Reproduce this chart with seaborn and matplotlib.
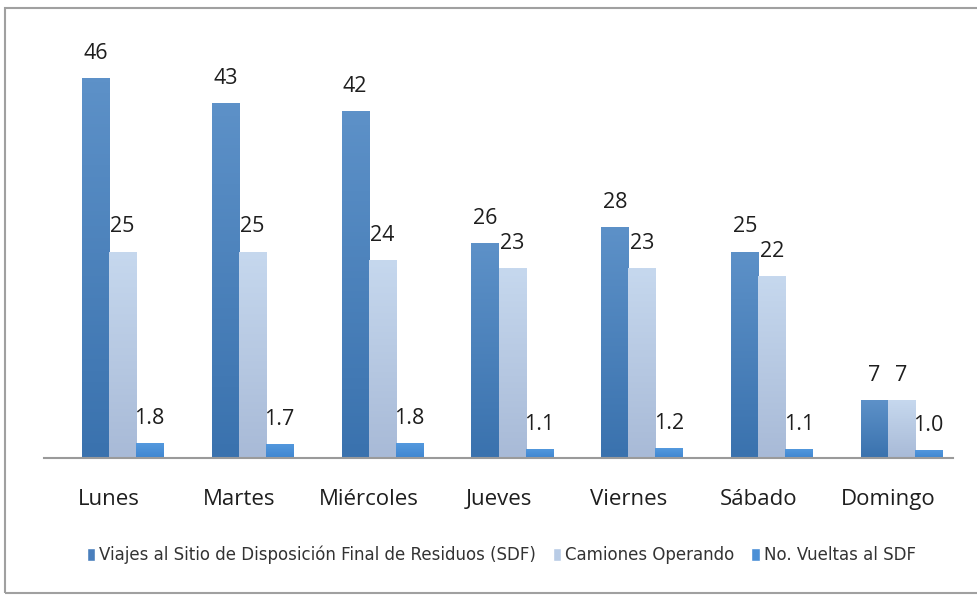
import pandas as pd
import numpy as np
import seaborn as sns
import matplotlib.pyplot as plt
from matplotlib.patches import Rectangle
from matplotlib.colors import LinearSegmentedColormap
from matplotlib.transforms import ScaledTranslation

# Datos
dias = ["Lunes", "Martes", "Miércoles", "Jueves", "Viernes", "Sábado", "Domingo"]
series = ["Viajes al Sitio de Disposición Final de Residuos (SDF)",
          "Camiones Operando", "No. Vueltas al SDF"]
viajes = [46, 43, 42, 26, 28, 25, 7]
camiones = [25, 25, 24, 23, 23, 22, 7]
vueltas = [1.8, 1.7, 1.8, 1.1, 1.2, 1.1, 1.0]
etiquetas = [["46", "43", "42", "26", "28", "25", "7"],
             ["25", "25", "24", "23", "23", "22", "7"],
             ["1.8", "1.7", "1.8", "1.1", "1.2", "1.1", "1.0"]]

df = pd.DataFrame({
    "dia": dias * 3,
    "serie": [series[0]] * 7 + [series[1]] * 7 + [series[2]] * 7,
    "valor": viajes + camiones + vueltas,
})

colores = ["#4a7fbd", "#b9cce6", "#4a8fd6"]
# (abajo, arriba)
degradados = [("#3a72ae", "#5d91c8"), ("#a8bad7", "#c6d8ee"), ("#3f86d0", "#5499de")]

sns.set_style("white")
plt.rcParams["font.family"] = ["Open Sans", "DejaVu Sans"]

fig = plt.figure(figsize=(9.77, 5.95), dpi=100)
ax = fig.add_axes([44 / 977, 137 / 595, 909 / 977, 413 / 595])

sns.barplot(data=df, x="dia", y="valor", hue="serie", hue_order=series,
            palette=colores, width=0.624, ax=ax, legend=True, saturation=1)

# Degradado en cada barra y etiquetas de valor
for i, cont in enumerate(ax.containers):
    cmap = LinearSegmentedColormap.from_list("g%d" % i, degradados[i])
    for bar, txt in zip(cont, etiquetas[i]):
        x0, w, h = bar.get_x(), bar.get_width(), bar.get_height()
        grad = np.linspace(0, 1, 100).reshape(-1, 1)
        im = ax.imshow(grad, cmap=cmap, aspect="auto", extent=[x0, x0 + w, 0, h],
                       origin="lower", zorder=bar.get_zorder() + 0.1)
        im.set_clip_path(bar)
        ax.text(x0 + w / 2, h + 1.7, txt, ha="center", va="bottom",
                fontsize=15.5, color="#1e1e1e")

# Excel deja las barras desplazadas respecto a la categoría
ax.set_xlim(-0.604, 6.396)
ax.set_ylim(0, 50)
ax.set_xlabel("")
ax.set_ylabel("")
ax.set_yticks([])
ax.tick_params(axis="x", length=0, labelsize=16, pad=22, colors="#1e1e1e")
desplaza = ScaledTranslation(-13.5 / 100, 0, fig.dpi_scale_trans)
for lbl in ax.get_xticklabels():
    lbl.set_transform(lbl.get_transform() + desplaza)
for s in ["top", "right", "left"]:
    ax.spines[s].set_visible(False)
ax.spines["bottom"].set_color("#9a9a9a")
ax.spines["bottom"].set_linewidth(1.5)

leg = ax.legend(loc="center", bbox_to_anchor=(0.503, -0.235), ncol=3, frameon=False,
                prop={"family": "DejaVu Sans", "size": 12}, handlelength=0.5,
                handleheight=0.75, handletextpad=0.25, columnspacing=1.0,
                labelcolor="#333333")

# Marco del gráfico
fig.patches.append(Rectangle((5 / 977, 2 / 595), 1.1, 585 / 595, transform=fig.transFigure,
                             fill=False, edgecolor="#a0a0a0", linewidth=1.5))

plt.savefig("out.png", dpi=100)
